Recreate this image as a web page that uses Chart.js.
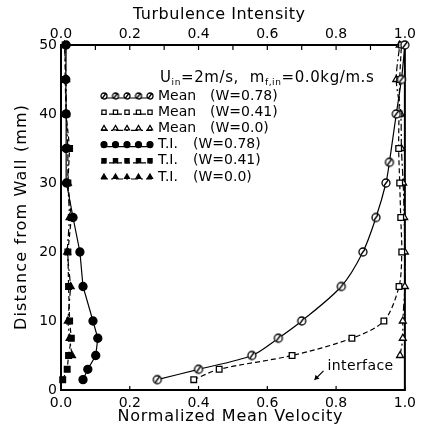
<!DOCTYPE html>
<html lang="en">
<head>
<meta charset="UTF-8">
<title>Velocity and turbulence profiles</title>
<script src="https://cdn.jsdelivr.net/npm/chart.js"></script>
<style>
  html, body { margin: 0; padding: 0; background: #fff; }
</style>
</head>
<body>
<canvas id="chart" width="421" height="430"></canvas>
<script>
// distance from wall (mm) and normalized mean velocity
const yMean078 = [1.5, 3, 5, 7.5, 10, 15, 20, 25, 30, 33, 40, 45, 50];
const meanW078 = [0.28, 0.40, 0.555, 0.632, 0.70, 0.815, 0.878, 0.916, 0.945, 0.955, 0.975, 0.99, 1.0];
const yMean041 = [1.5, 3, 5, 7.5, 10, 15, 20, 25, 30, 35, 40, 45, 50];
const meanW041 = [0.386, 0.46, 0.672, 0.846, 0.939, 0.983, 0.991, 0.988, 0.985, 0.982, 0.983, 0.985, 0.99];
const yMean000 = [5, 7.5, 10, 15, 20, 25, 30, 35, 40, 45, 50];
const meanW000 = [0.986, 0.994, 0.994, 1.0, 1.0, 0.998, 0.995, 0.99, 0.988, 0.975, 0.985];

// turbulence intensity profiles (top axis)
const yTI078 = [1.5, 3, 5, 7.5, 10, 15, 20, 25, 30, 35, 40, 45, 50];
const tiW078 = [0.064, 0.078, 0.101, 0.107, 0.093, 0.064, 0.055, 0.035, 0.016, 0.015, 0.015, 0.014, 0.015];
const yTI041 = [1.5, 3, 5, 7.5, 10, 15, 20, 25, 30, 35, 40, 45, 50];
const tiW041 = [0.005, 0.018, 0.022, 0.03, 0.025, 0.022, 0.02, 0.03, 0.02, 0.025, 0.015, 0.012, 0.012];
const yTI000 = [5, 7.5, 10, 15, 20, 25, 30, 35, 40, 45, 50];
const tiW000 = [0.032, 0.025, 0.02, 0.028, 0.018, 0.025, 0.02, 0.02, 0.015, 0.015, 0.01];

const xTicks = [0, 0.2, 0.4, 0.6, 0.8, 1.0];
const yTicks = [0, 10, 20, 30, 40, 50];

const FONT = 'DejaVu Sans';

function pts(xs, ys) {
    return xs.map((v, i) => ({ x: v, y: ys[i] }));
}

// open circle with a slash through it
function slashedCircle(r) {
    const s = r * 2 + 4;
    const c = document.createElement('canvas');
    c.width = s; c.height = s;
    const g = c.getContext('2d');
    g.fillStyle = '#fff';
    g.strokeStyle = '#000';
    g.lineWidth = 1.3;
    g.beginPath();
    g.arc(s / 2, s / 2, r, 0, Math.PI * 2);
    g.fill();
    g.stroke();
    g.beginPath();
    g.moveTo(s / 2 - r * 0.55, s / 2 + r * 0.75);
    g.lineTo(s / 2 + r * 0.55, s / 2 - r * 0.75);
    g.stroke();
    return c;
}
const circleMark = slashedCircle(4);
const circleSmall = slashedCircle(3);

const DASH = [5, 3];
const DASHDOT = [7, 3, 2, 3];

const series = [
    { label: 'Mean', w: '0.78', axis: 'x', xs: meanW078, ys: yMean078, style: circleMark, key: circleSmall, fill: '#fff', dash: [], tension: 0.3 },
    { label: 'Mean', w: '0.41', axis: 'x', xs: meanW041, ys: yMean041, style: 'rect', key: 'rect', fill: '#fff', dash: DASH, tension: 0.3 },
    { label: 'Mean', w: '0.0', axis: 'x', xs: meanW000, ys: yMean000, style: 'triangle', key: 'triangle', fill: '#fff', dash: DASHDOT, tension: 0.3 },
    { label: 'T.I.', w: '0.78', axis: 'x2', xs: tiW078, ys: yTI078, style: 'circle', key: 'circle', fill: '#000', dash: [], tension: 0 },
    { label: 'T.I.', w: '0.41', axis: 'x2', xs: tiW041, ys: yTI041, style: 'rect', key: 'rect', fill: '#000', dash: DASH, tension: 0 },
    { label: 'T.I.', w: '0.0', axis: 'x2', xs: tiW000, ys: yTI000, style: 'triangle', key: 'triangle', fill: '#000', dash: DASHDOT, tension: 0 }
];

const datasets = series.map(s => ({
    label: s.label + ' (W=' + s.w + ')',
    data: pts(s.xs, s.ys),
    xAxisID: s.axis,
    yAxisID: 'y',
    showLine: true,
    borderColor: '#000',
    borderWidth: 1.2,
    borderDash: s.dash,
    tension: s.tension,
    pointStyle: s.style,
    pointRadius: 4,
    pointBorderWidth: 1.3,
    pointBorderColor: '#000',
    pointBackgroundColor: s.fill,
    clip: false
}));

// spread a string to a given width, centred on x
function spacedText(ctx, text, x, y, width) {
    ctx.letterSpacing = '0px';
    const w0 = ctx.measureText(text).width;
    const sp = Math.max(0, (width - w0) / (text.length - 1));
    ctx.letterSpacing = sp + 'px';
    ctx.textAlign = 'left';
    ctx.fillText(text, x - width / 2, y);
    ctx.letterSpacing = '0px';
}

// frame and inward tick marks
const frameTicks = {
    id: 'frameTicks',
    beforeDatasetsDraw(chart) {
        const { ctx, chartArea: a, scales } = chart;
        ctx.save();
        ctx.strokeStyle = '#000';
        ctx.lineWidth = 1.2;
        ctx.beginPath();
        scales.x2.ticks.forEach(t => {
            const px = scales.x2.getPixelForValue(t.value);
            ctx.moveTo(px, a.top);
            ctx.lineTo(px, a.top + 5);
        });
        scales.x.ticks.forEach(t => {
            const px = scales.x.getPixelForValue(t.value);
            ctx.moveTo(px, a.bottom);
            ctx.lineTo(px, a.bottom - 4);
        });
        ctx.stroke();
        ctx.lineWidth = 2;
        ctx.strokeRect(a.left, a.top, a.right - a.left, a.bottom - a.top);
        ctx.restore();
    }
};

// axis titles, legend block with conditions line, interface note
const notes = {
    id: 'notes',
    afterDraw(chart) {
        const { ctx, scales, chartArea: a } = chart;
        const H = Chart.helpers;
        ctx.save();
        ctx.fillStyle = '#000';
        ctx.strokeStyle = '#000';

        // axis titles
        ctx.font = '16px "' + FONT + '"';
        ctx.textBaseline = 'middle';
        spacedText(ctx, 'Turbulence Intensity', 219, 15, 172);
        spacedText(ctx, 'Normalized Mean Velocity', 230, 417, 225);
        ctx.save();
        ctx.translate(22, (a.top + a.bottom) / 2);
        ctx.rotate(-Math.PI / 2);
        spacedText(ctx, 'Distance from Wall (mm)', 0, 0, 225);
        ctx.restore();

        // U_in=2m/s,  m_f,in=0.0kg/m.s
        ctx.textBaseline = 'alphabetic';
        ctx.textAlign = 'left';
        ctx.letterSpacing = '0.6px';
        const big = '15px "' + FONT + '"';
        const small = '9px "' + FONT + '"';
        let x = 160;
        const by = 82;
        const parts = [['U', big, 0], ['in', small, 3], ['=2m/s,  m', big, 0], ['f,in', small, 3], ['=0.0kg/m.s', big, 0]];
        parts.forEach(([t, f, dy]) => {
            ctx.font = f;
            ctx.fillText(t, x, by + dy);
            x += ctx.measureText(t).width;
        });
        ctx.letterSpacing = '0px';

        ctx.font = '14px "' + FONT + '"';
        ctx.textBaseline = 'middle';
        series.forEach((s, i) => {
            const ry = 96 + i * 16.2;
            ctx.lineWidth = 1.2;
            ctx.setLineDash(s.dash);
            ctx.beginPath();
            ctx.moveTo(101, ry + 2);
            ctx.lineTo(152, ry + 2);
            ctx.stroke();
            ctx.setLineDash([]);
            for (let k = 0; k < 5; k++) {
                ctx.fillStyle = s.fill;
                ctx.lineWidth = 1.2;
                H.drawPoint(ctx, { pointStyle: s.key, radius: 3, rotation: 0, borderWidth: 1.2 }, 104 + k * 11.5, ry);
            }
            ctx.fillStyle = '#000';
            ctx.fillText(s.label, 158, ry);
            ctx.fillText('(W=' + s.w + ')', s.label === 'Mean' ? 210 : 193, ry);
        });

        // interface note with arrow
        ctx.font = '14px "' + FONT + '"';
        const tx = scales.x.getPixelForValue(0.775);
        const ty = scales.y.getPixelForValue(3.5);
        ctx.letterSpacing = '0.4px';
        ctx.fillText('interface', tx, ty + 1);
        ctx.letterSpacing = '0px';
        const ax0 = tx - 4, ay0 = ty + 5;
        const ax1 = tx - 13, ay1 = ty + 14;
        ctx.lineWidth = 1.3;
        ctx.beginPath();
        ctx.moveTo(ax0, ay0);
        ctx.lineTo(ax1, ay1);
        ctx.stroke();
        ctx.beginPath();
        ctx.moveTo(ax1, ay1);
        ctx.lineTo(ax1 + 1, ay1 - 5);
        ctx.lineTo(ax1 + 5, ay1 - 1);
        ctx.closePath();
        ctx.fill();
        ctx.restore();
    }
};

Chart.defaults.font.family = FONT;
Chart.defaults.color = '#000';

new Chart(document.getElementById('chart'), {
    type: 'scatter',
    data: { datasets },
    options: {
        responsive: false,
        animation: false,
        layout: { padding: { right: 15, top: 0, bottom: 0, left: 0 } },
        plugins: { legend: { display: false }, tooltip: { enabled: false } },
        scales: {
            x: {
                type: 'linear', position: 'bottom', min: 0, max: 1,
                afterBuildTicks: s => { s.ticks = xTicks.map(v => ({ value: v })); },
                grid: { display: false, drawTicks: false },
                border: { display: false },
                ticks: { padding: 5, font: { size: 14 }, maxRotation: 0, autoSkip: false, callback: v => v.toFixed(1) },
                afterFit: s => { s.height = 40; }
            },
            x2: {
                type: 'linear', position: 'top', min: 0, max: 1,
                ticks: {
                    stepSize: 0.1, padding: 2, font: { size: 14 }, maxRotation: 0, autoSkip: false,
                    callback: v => (Math.round(v * 10) % 2 === 0 ? v.toFixed(1) : '')
                },
                grid: { display: false, drawTicks: false },
                border: { display: false },
                afterFit: s => { s.height = 45; }
            },
            y: {
                type: 'linear', position: 'left', min: 0, max: 50,
                afterBuildTicks: s => { s.ticks = yTicks.map(v => ({ value: v })); },
                grid: { display: false, drawTicks: false },
                border: { display: false },
                ticks: { padding: 4, font: { size: 14 } },
                afterFit: s => { s.width = 61; }
            }
        }
    },
    plugins: [frameTicks, notes]
});
</script>
</body>
</html>
